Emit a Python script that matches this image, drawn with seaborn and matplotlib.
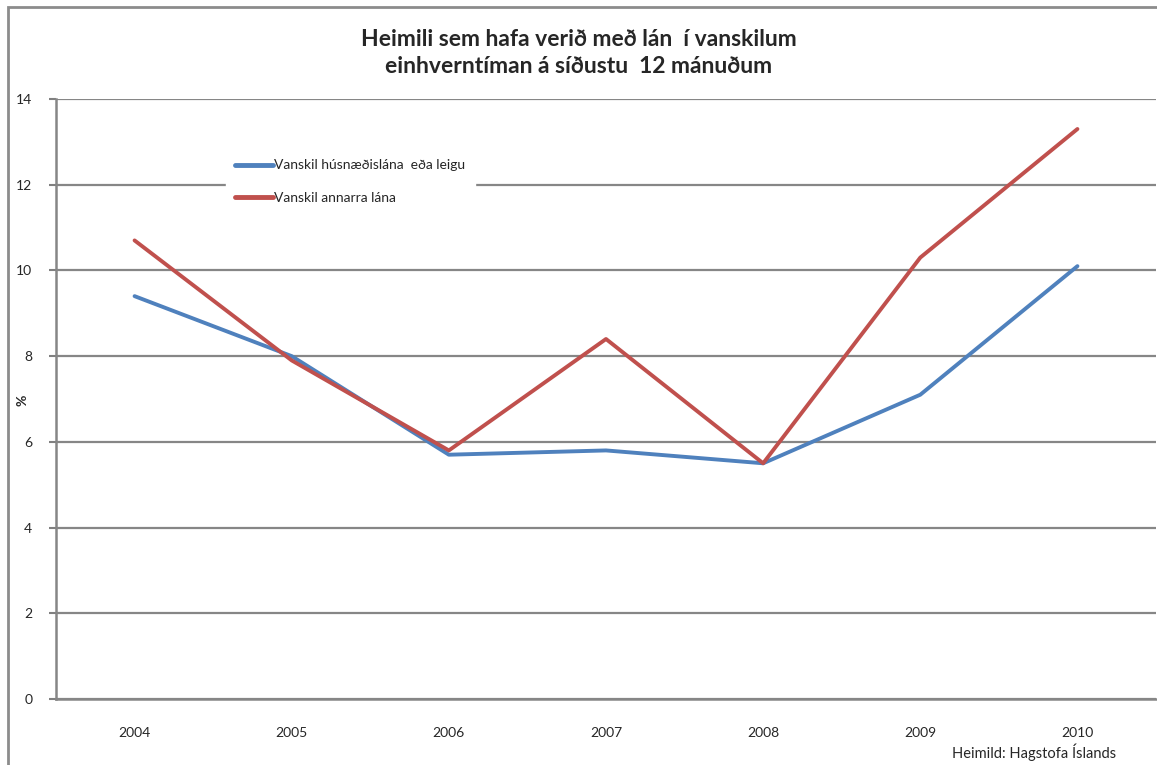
import matplotlib
matplotlib.use("Agg")
import matplotlib.pyplot as plt
import seaborn as sns
import pandas as pd
from matplotlib.patches import Rectangle
from matplotlib.ticker import FixedLocator

years = ["2004", "2005", "2006", "2007", "2008", "2009", "2010"]
husnaedi = [9.4, 8.0, 5.7, 5.8, 5.5, 7.1, 10.1]
onnur = [10.7, 7.9, 5.8, 8.4, 5.5, 10.3, 13.3]
series_names = ["Vanskil húsnæðislána  eða leigu", "Vanskil annarra lána"]
colors = ["#4F81BD", "#C0504D"]
yticks = [0, 2, 4, 6, 8, 10, 12, 14]

sns.set_theme(style="white")
plt.rcParams['font.family'] = ['Lato', 'DejaVu Sans']

df = pd.DataFrame({
    "x": list(range(len(years))) * 2,
    "year": years * 2,
    "value": husnaedi + onnur,
    "series": [series_names[0]] * len(years) + [series_names[1]] * len(years),
})

fig = plt.figure(figsize=(11.57, 7.65), dpi=100)
ax = fig.add_axes([56 / 1157, 1 - 699 / 765, (1156 - 56) / 1157, (699 - 99) / 765])

sns.lineplot(data=df, x="x", y="value", hue="series", palette=colors,
             linewidth=2.8, ax=ax, legend=True)

ax.set_xlim(-0.5, len(years) - 0.5)
ax.set_ylim(0, 14)
ax.set_yticks(yticks)
ax.set_yticklabels([str(v) for v in yticks], fontsize=10)
ax.set_xticks(range(len(years)))
ax.set_xticklabels(years, fontsize=10)
ax.xaxis.set_minor_locator(FixedLocator([i - 0.5 for i in range(len(years) + 1)]))
ax.tick_params(axis="x", which="major", length=0, pad=20)
ax.tick_params(axis="x", which="minor", length=6, width=1.5, color="#808080", direction="out")
ax.tick_params(axis="y", which="major", length=5, width=1.5, color="#808080", direction="out", pad=12, left=True)
ax.grid(axis="y", color="#868686", linewidth=1.6)
ax.set_axisbelow(True)
for s in ["top", "right"]:
    ax.spines[s].set_visible(False)
for s in ["left", "bottom"]:
    ax.spines[s].set_color("#868686")
    ax.spines[s].set_linewidth(1.8)
ax.set_xlabel("")
ax.set_ylabel("%", fontsize=10, fontweight="bold")
ax.yaxis.set_label_coords(-0.025, 0.498)

leg = ax.legend(loc="upper left", bbox_to_anchor=(0.148, 0.927), frameon=True,
                fontsize=10, handlelength=2.7, handletextpad=0.1,
                borderpad=0.7, labelspacing=1.45, fancybox=False)
leg.get_frame().set_edgecolor("white")
leg.get_frame().set_facecolor("white")
leg.get_frame().set_alpha(1)
for line in leg.get_lines():
    line.set_linewidth(3.5)

fig.text(0.5, 1 - 53 / 765, "Heimili sem hafa verið med lán  í vanskilum\neinhverntíman á síðustu  12 mánuðum".replace("med", "með"),
         ha="center", va="center", fontsize=16.5, fontweight="bold", linespacing=1.35)
fig.text(1116 / 1157, 1 - 752 / 765, "Heimild: Hagstofa Íslands", ha="right", va="center", fontsize=10.5)

fig.patches.append(Rectangle((8 / 1157, -0.05), 1.2, 1 - 7 / 765 + 0.05, transform=fig.transFigure,
                             fill=False, edgecolor="#8c8c8c", linewidth=2, figure=fig))

fig.savefig("out.png", dpi=100)
